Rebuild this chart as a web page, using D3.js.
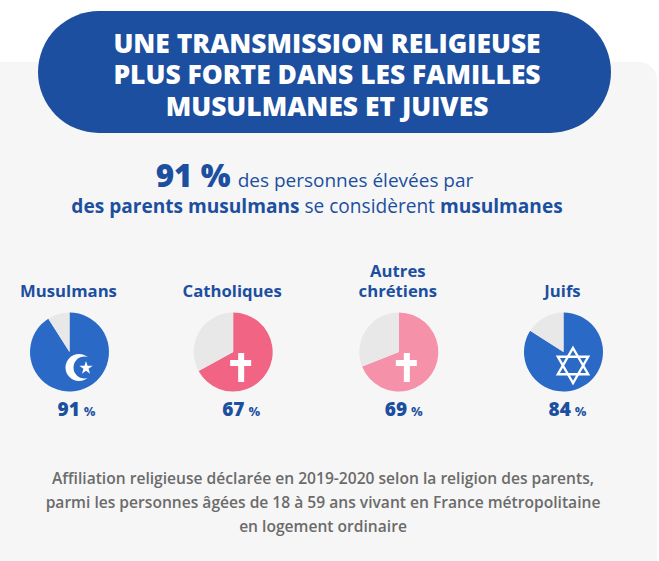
<!DOCTYPE html>
<html>
<head>
<meta charset="utf-8">
<script src="https://cdn.jsdelivr.net/npm/d3@7"></script>
<style>
  html, body { margin: 0; padding: 0; background: #fff; }
  svg { display: block; }
  text { font-family: "Open Sans", sans-serif; text-anchor: middle; }
</style>
</head>
<body>
<div id="container"></div>
<script>
const title_lines = ['UNE TRANSMISSION RELIGIEUSE', 'PLUS FORTE DANS LES FAMILLES', 'MUSULMANES ET JUIVES'];
const note_lines = [
  'Affiliation religieuse déclarée en 2019-2020 selon la religion des parents,',
  'parmi les personnes âgées de 18 à 59 ans vivant en France métropolitaine',
  'en logement ordinaire'
];
const categories = [['Musulmans'], ['Catholiques'], ['Autres', 'chrétiens'], ['Juifs']];
const values = [91, 67, 69, 84];
const pie_colors = ['#2a69c6', '#f26483', '#f592a9', '#2a69c6'];
const icons = ['crescent', 'cross', 'cross', 'david'];

const BLUE = '#1c4f9f';
const width = 659, height = 561;

const svg = d3.select('#container').append('svg')
  .attr('width', width)
  .attr('height', height);

//---------------------
// BACKGROUND + TITLE
//---------------------

svg.append('rect')
  .attr('x', -20).attr('y', 62)
  .attr('width', 677).attr('height', 530)
  .attr('rx', 18)
  .attr('fill', '#f6f6f6');

svg.append('rect')
  .attr('x', 38).attr('y', 11)
  .attr('width', 573).attr('height', 122)
  .attr('rx', 61)
  .attr('fill', BLUE);

svg.selectAll('.title')
  .data(title_lines)
  .enter()
  .append('text')
  .attr('class', 'title')
  .attr('x', 327)
  .attr('y', (d, i) => 52.5 + i * 31.5)
  .attr('fill', '#fff')
  .attr('font-size', 26.4)
  .attr('font-weight', 800)
  .text(d => d);

//---------------------
// HEADLINE
//---------------------

const head1 = svg.append('text').attr('x', 314.5).attr('y', 187).attr('fill', BLUE);
head1.append('tspan').attr('font-size', 31.5).attr('font-weight', 800).text('91 %');
head1.append('tspan').attr('font-size', 19).attr('dx', 7).text('des personnes élevées par');

const head2 = svg.append('text').attr('x', 317).attr('y', 213).attr('fill', BLUE).attr('font-size', 19.1);
head2.append('tspan').attr('font-weight', 700).text('des parents musulmans');
head2.append('tspan').text(' se considèrent ');
head2.append('tspan').attr('font-weight', 700).text('musulmanes');

//---------------------
// PIES
//---------------------

const scale_x = d3.scalePoint()
  .domain(d3.range(categories.length))
  .range([69.5, 563.5]);

// spacing of the pies is not quite regular, so nudge from the point scale
const nudge = [0, -1, 0, 0];
// the percent labels sit off-centre under their pies
const pct_dx = [7, 8, 5, 4];
const pie_y = 352;
const radius = 39.5;

const pie = d3.pie().sort(null).value(d => d);
const arc = d3.arc().innerRadius(0).outerRadius(radius);

const groups = svg.selectAll('.pie')
  .data(values)
  .enter()
  .append('g')
  .attr('class', 'pie')
  .attr('transform', (d, i) => `translate(${scale_x(i) + nudge[i]}, ${pie_y})`);

groups.each(function (d, i) {
  const g = d3.select(this);

  g.selectAll('path.slice')
    .data(pie([d, 100 - d]))
    .enter()
    .append('path')
    .attr('class', 'slice')
    .attr('d', arc)
    .attr('fill', (s, j) => j === 0 ? pie_colors[i] : '#e8e8e8');

  const name = categories[i];
  g.selectAll('text.cat')
    .data(name)
    .enter()
    .append('text')
    .attr('class', 'cat')
    .attr('x', -1)
    .attr('y', (s, j) => -55.5 - (name.length - 1 - j) * 20)
    .attr('fill', BLUE)
    .attr('font-size', 16.7)
    .attr('font-weight', 700)
    .text(s => s);

  const pct = g.append('text').attr('y', 63.5).attr('fill', BLUE).attr('x', pct_dx[i]);
  pct.append('tspan').attr('font-size', 19).attr('font-weight', 800).text(d);
  pct.append('tspan').attr('font-size', 13).attr('font-weight', 700).attr('dx', 4).text('%');

  addIcon(g, icons[i], pie_colors[i]);
});

function addIcon (g, type, color) {
  if (type === 'cross') {
    g.append('rect').attr('x', 5).attr('y', 1).attr('width', 6).attr('height', 29).attr('fill', '#fff');
    g.append('rect').attr('x', -3).attr('y', 8).attr('width', 21).attr('height', 6).attr('fill', '#fff');
  } else if (type === 'crescent') {
    g.append('circle').attr('cx', 9.5).attr('cy', 15.5).attr('r', 13.5).attr('fill', '#fff');
    g.append('circle').attr('cx', 15).attr('cy', 15.5).attr('r', 11).attr('fill', color);
    g.append('path')
      .attr('transform', 'translate(16.5, 16)')
      .attr('d', d3.symbol(d3.symbolStar, 55)())
      .attr('fill', '#fff');
  } else if (type === 'david') {
    const triangle = d3.lineRadial().curve(d3.curveLinearClosed);
    [0, Math.PI].forEach(rot => {
      g.append('path')
        .attr('transform', 'translate(9.5, 13.5)')
        .attr('d', triangle([0, 1, 2].map(k => [rot + k * 2 * Math.PI / 3, 17.5])))
        .attr('fill', 'none')
        .attr('stroke', '#fff')
        .attr('stroke-width', 2.4);
    });
  }
}

//---------------------
// NOTE
//---------------------

svg.selectAll('.note')
  .data(note_lines)
  .enter()
  .append('text')
  .attr('class', 'note')
  .attr('x', 323)
  .attr('y', (d, i) => 484 + i * 24.2)
  .attr('fill', '#6b6b6b')
  .attr('font-size', 15.6)
  .attr('font-weight', 600)
  .text(d => d);
</script>
</body>
</html>
